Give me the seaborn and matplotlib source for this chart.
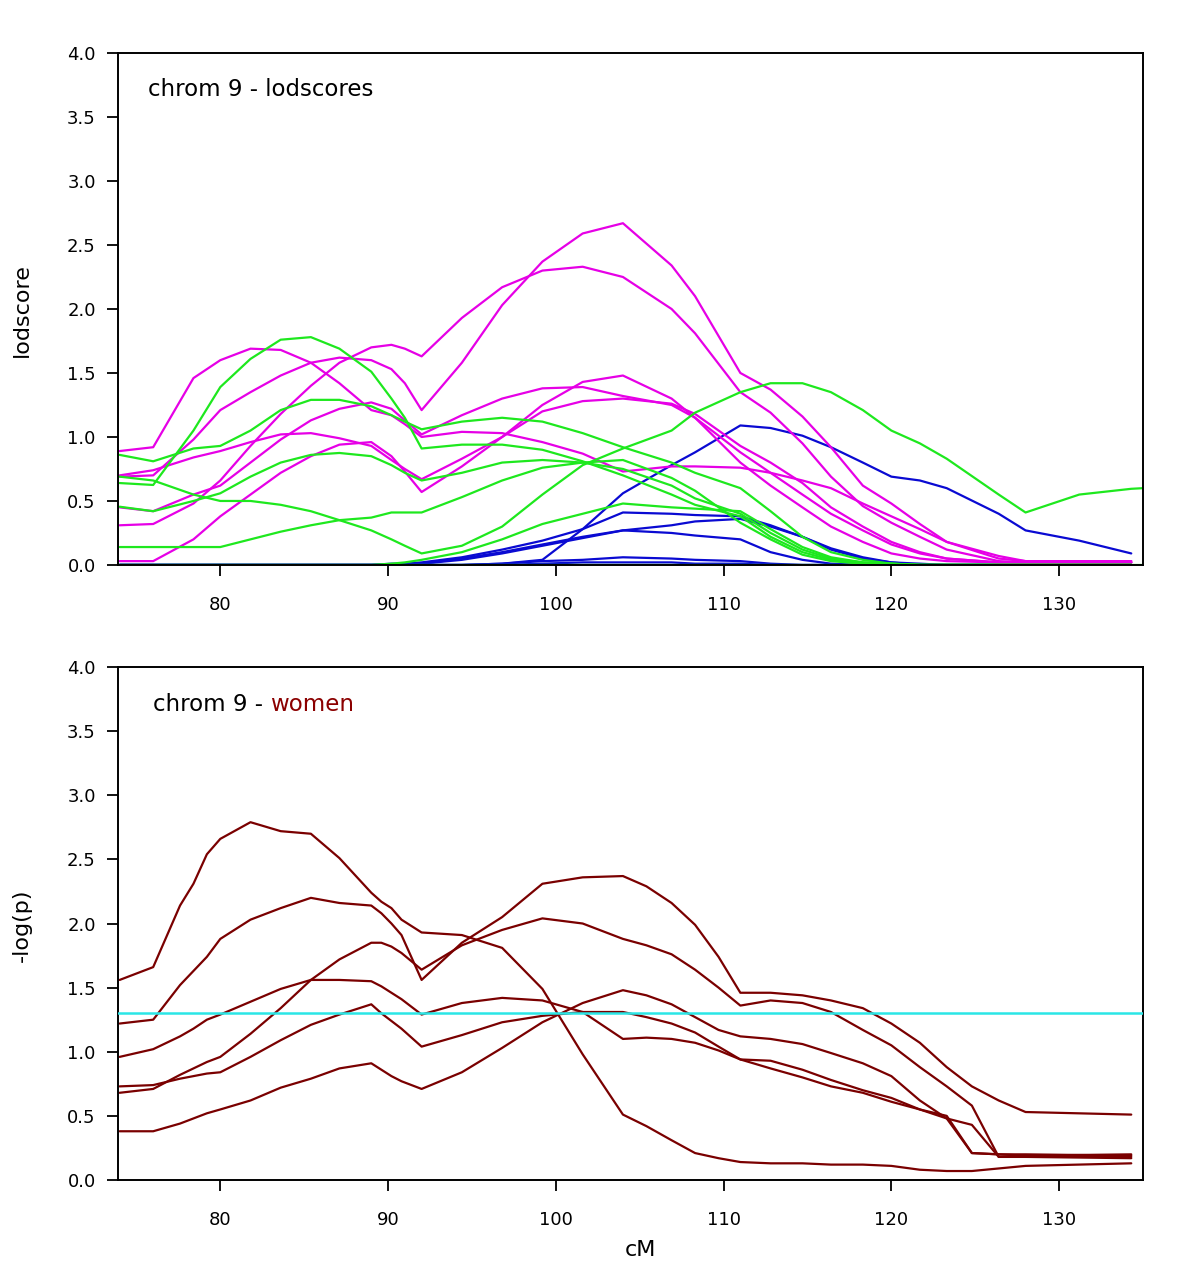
import numpy as np
import matplotlib
matplotlib.use('Agg')
import matplotlib.pyplot as plt
import seaborn as sns

nan = np.nan

# ---- top panel: lodscores, marker positions (cM) ----
cm_top = [74, 76, 78.4, 80, 81.8, 83.6, 85.4, 87.1, 89, 90.2, 91, 92, 94.4, 96.8, 99.2, 101.6,
          104, 106.9, 108.3, 111, 112.8, 114.7, 116.4, 118.3, 120, 121.7, 123.3, 126.4, 128,
          131.2, 134.3, 135]

mag_1 = [0.69, 0.70, 0.98, 1.21, 1.35, 1.48, 1.58, 1.62, 1.60, 1.53, 1.42, 1.21, 1.58, 2.03, 2.37, 2.59,
         2.67, 2.34, 2.10, 1.50, 1.37, 1.16, 0.92, 0.62, 0.48, 0.32, 0.18, 0.05, 0.03, 0.03, 0.03, nan]
mag_2 = [0.31, 0.32, 0.48, 0.66, 0.93, 1.18, 1.40, 1.58, 1.70, 1.72, 1.69, 1.63, 1.93, 2.17, 2.30, 2.33,
         2.25, 2.00, 1.81, 1.35, 1.19, 0.95, 0.69, 0.46, 0.33, 0.22, 0.12, 0.03, 0.02, 0.02, 0.02, nan]
mag_3 = [0.89, 0.92, 1.46, 1.60, 1.69, 1.68, 1.58, 1.42, 1.21, 1.17, 1.10, 1.00, 1.04, 1.03, 0.96, 0.87,
         0.73, 0.77, 0.77, 0.76, 0.72, 0.66, 0.60, 0.48, 0.38, 0.28, 0.18, 0.07, 0.03, 0.03, 0.03, nan]
mag_4 = [0.70, 0.74, 0.84, 0.89, 0.96, 1.02, 1.03, 0.99, 0.93, 0.82, 0.75, 0.67, 0.83, 1.00, 1.20, 1.28,
         1.30, 1.26, 1.18, 0.93, 0.80, 0.64, 0.45, 0.30, 0.18, 0.10, 0.05, 0.02, 0.02, 0.02, 0.02, nan]
mag_5 = [0.03, 0.03, 0.20, 0.38, 0.55, 0.72, 0.85, 0.94, 0.96, 0.85, 0.73, 0.57, 0.77, 1.00, 1.25, 1.43,
         1.48, 1.30, 1.15, 0.80, 0.62, 0.45, 0.30, 0.18, 0.09, 0.05, 0.03, 0.02, 0.02, 0.02, 0.02, nan]
mag_6 = [0.45, 0.42, 0.55, 0.62, 0.80, 0.98, 1.13, 1.22, 1.27, 1.22, 1.13, 1.02, 1.17, 1.30, 1.38, 1.39,
         1.32, 1.25, 1.15, 0.88, 0.72, 0.55, 0.40, 0.27, 0.16, 0.09, 0.05, 0.02, 0.02, 0.02, 0.02, nan]

grn_1 = [0.64, 0.625, 1.05, 1.39, 1.61, 1.76, 1.78, 1.69, 1.51, 1.30, 1.15, 0.91, 0.94, 0.94, 0.90, 0.81,
         0.70, 0.55, 0.47, 0.38, 0.22, 0.10, 0.04, 0.01, 0, 0, 0, 0, 0, 0, 0, nan]
grn_2 = [0.86, 0.81, 0.91, 0.93, 1.05, 1.21, 1.29, 1.29, 1.24, 1.17, 1.12, 1.06, 1.12, 1.15, 1.12, 1.03,
         0.92, 0.80, 0.72, 0.60, 0.42, 0.22, 0.10, 0.04, 0.01, 0, 0, 0, 0, 0, 0, nan]
grn_3 = [0.455, 0.42, 0.50, 0.56, 0.69, 0.80, 0.86, 0.875, 0.85, 0.78, 0.72, 0.66, 0.72, 0.80, 0.82, 0.80,
         0.75, 0.62, 0.52, 0.40, 0.25, 0.12, 0.05, 0.02, 0.01, 0, 0, 0, 0, 0, 0, nan]
grn_4 = [0.69, 0.66, 0.55, 0.50, 0.50, 0.47, 0.42, 0.35, 0.27, 0.20, 0.15, 0.09, 0.15, 0.30, 0.55, 0.78,
         0.91, 1.05, 1.19, 1.35, 1.42, 1.42, 1.35, 1.21, 1.05, 0.95, 0.83, 0.55, 0.41, 0.55, 0.595, 0.60]
grn_5 = [0.14, 0.14, 0.14, 0.14, 0.20, 0.26, 0.31, 0.35, 0.37, 0.41, 0.41, 0.41, 0.53, 0.66, 0.76, 0.80,
         0.82, 0.68, 0.58, 0.33, 0.20, 0.08, 0.03, 0.01, 0, 0, 0, 0, 0, 0, 0, nan]
grn_6 = [0, 0, 0, 0, 0, 0, 0, 0, 0, 0.01, 0.02, 0.04, 0.10, 0.20, 0.32, 0.40,
         0.48, 0.45, 0.44, 0.42, 0.28, 0.14, 0.06, 0.02, 0.01, 0, 0, 0, 0, 0, 0, nan]
grn_7 = [0, 0, 0, 0, 0, 0, 0, 0, 0, 0, 0, 0, 0, 0, 0, 0,
         0, 0, 0, 0, 0, 0, 0, 0, 0, 0, 0, 0, 0, 0, 0, 0]

blu_1 = [0, 0, 0, 0, 0, 0, 0, 0, 0, 0, 0, 0, 0, 0.01, 0.04, 0.28,
         0.56, 0.78, 0.88, 1.09, 1.07, 1.01, 0.92, 0.80, 0.69, 0.66, 0.60, 0.40, 0.27, 0.19, 0.09, nan]
blu_2 = [0, 0, 0, 0, 0, 0, 0, 0, 0, 0.01, 0.01, 0.02, 0.06, 0.12, 0.19, 0.28,
         0.41, 0.40, 0.39, 0.38, 0.31, 0.22, 0.12, 0.05, 0.02, 0.01, 0, 0, 0, 0, 0, nan]
blu_3 = [0, 0, 0, 0, 0, 0, 0, 0, 0, 0, 0, 0.01, 0.05, 0.10, 0.16, 0.22,
         0.27, 0.31, 0.34, 0.36, 0.30, 0.22, 0.13, 0.06, 0.02, 0, 0, 0, 0, 0, 0, nan]
blu_4 = [0, 0, 0, 0, 0, 0, 0, 0, 0, 0, 0, 0.01, 0.04, 0.09, 0.15, 0.21,
         0.27, 0.25, 0.23, 0.20, 0.10, 0.04, 0.01, 0, 0, 0, 0, 0, 0, 0, 0, nan]
blu_5 = [0, 0, 0, 0, 0, 0, 0, 0, 0, 0, 0, 0, 0, 0.01, 0.03, 0.04,
         0.06, 0.05, 0.04, 0.03, 0.01, 0, 0, 0, 0, 0, 0, 0, 0, 0, 0, nan]
blu_6 = [0, 0, 0, 0, 0, 0, 0, 0, 0, 0, 0, 0, 0, 0, 0.01, 0.02,
         0.02, 0.02, 0.01, 0.01, 0, 0, 0, 0, 0, 0, 0, 0, 0, 0, 0, nan]

# ---- bottom panel: -log(p), women ----
cm_bot = [74, 76, 77.6, 78.4, 79.2, 80, 81.8, 83.6, 85.4, 87.1, 89, 89.6, 90.2, 90.8, 92, 94.4, 96.8,
          99.2, 101.6, 104, 105.4, 106.9, 108.3, 109.7, 111, 112.8, 114.7, 116.4, 118.3, 120, 121.7,
          123.3, 124.8, 126.4, 128, 134.3]

wom_1 = [1.56, 1.66, 2.14, 2.31, 2.54, 2.66, 2.79, 2.72, 2.70, 2.51, 2.24, 2.17, 2.12, 2.03, 1.93, 1.91,
         1.81, 1.49, 0.98, 0.51, 0.42, 0.31, 0.21, 0.17, 0.14, 0.13, 0.13, 0.12, 0.12, 0.11, 0.08, 0.07,
         0.07, 0.09, 0.11, 0.13]
wom_2 = [1.22, 1.25, 1.52, 1.63, 1.74, 1.88, 2.03, 2.12, 2.20, 2.16, 2.14, 2.08, 2.00, 1.91, 1.56, 1.85,
         2.05, 2.31, 2.36, 2.37, 2.29, 2.16, 1.99, 1.74, 1.46, 1.46, 1.44, 1.40, 1.34, 1.22, 1.07, 0.88,
         0.73, 0.62, 0.53, 0.51]
wom_3 = [0.68, 0.71, 0.82, 0.87, 0.92, 0.96, 1.14, 1.34, 1.56, 1.72, 1.85, 1.85, 1.82, 1.77, 1.64, 1.83,
         1.95, 2.04, 2.00, 1.88, 1.83, 1.76, 1.64, 1.50, 1.36, 1.40, 1.38, 1.31, 1.17, 1.05, 0.88, 0.73,
         0.58, 0.18, 0.19, 0.18]
wom_4 = [0.96, 1.02, 1.12, 1.18, 1.25, 1.29, 1.39, 1.49, 1.56, 1.56, 1.55, 1.51, 1.46, 1.41, 1.29, 1.38,
         1.42, 1.40, 1.31, 1.10, 1.11, 1.10, 1.07, 1.01, 0.94, 0.93, 0.86, 0.78, 0.70, 0.64, 0.55, 0.48,
         0.43, 0.18, 0.18, 0.17]
wom_5 = [0.73, 0.74, 0.79, 0.81, 0.83, 0.84, 0.96, 1.09, 1.21, 1.29, 1.37, 1.30, 1.24, 1.18, 1.04, 1.13,
         1.23, 1.28, 1.31, 1.31, 1.27, 1.22, 1.15, 1.04, 0.94, 0.87, 0.80, 0.73, 0.68, 0.61, 0.55, 0.50,
         0.21, 0.20, 0.20, 0.19]
wom_6 = [0.38, 0.38, 0.44, 0.48, 0.52, 0.55, 0.62, 0.72, 0.79, 0.87, 0.91, 0.86, 0.81, 0.77, 0.71, 0.84,
         1.03, 1.23, 1.38, 1.48, 1.44, 1.37, 1.27, 1.17, 1.12, 1.10, 1.06, 0.99, 0.91, 0.81, 0.62, 0.48,
         0.21, 0.20, 0.19, 0.20]

threshold = 1.3  # -log10(0.05)

y_ticks = [0.0, 0.5, 1.0, 1.5, 2.0, 2.5, 3.0, 3.5, 4.0]
x_ticks = [80, 90, 100, 110, 120, 130]

BLUE = '#0a0ad2'
MAGENTA = '#e600e6'
GREEN = '#1ee81e'
DARKRED = '#7a0000'
CYAN = '#2ae6e6'


def style_axis(ax):
    ax.set_xlim(73.9, 135)
    ax.set_ylim(0, 4)
    ax.set_xticks(x_ticks)
    ax.set_yticks(y_ticks)
    ax.set_yticklabels(['%.1f' % v for v in y_ticks])
    ax.tick_params(axis='both', direction='out', length=8, width=1.3, labelsize=13,
                   colors='black', top=False, right=False)
    ax.tick_params(axis='x', pad=14)
    ax.tick_params(axis='y', pad=8)
    for sp in ax.spines.values():
        sp.set_visible(True)
        sp.set_linewidth(1.4)
        sp.set_color('black')
    ax.set_xlabel('')
    ax.set_ylabel('')


sns.set_style('ticks')
plt.rcParams['font.family'] = ['DejaVu Sans']
plt.rcParams['text.color'] = 'black'
plt.rcParams['axes.labelcolor'] = 'black'

fig = plt.figure(figsize=(12, 12.71), dpi=100)
ax1 = fig.add_axes([0.0983, 0.5555, 0.8542, 0.4028])
ax2 = fig.add_axes([0.0983, 0.0716, 0.8542, 0.4036])

for vals in [blu_1, blu_2, blu_3, blu_4, blu_5, blu_6]:
    sns.lineplot(x=cm_top, y=vals, color=BLUE, linewidth=1.6, ax=ax1)
for vals in [mag_1, mag_2, mag_3, mag_4, mag_5, mag_6]:
    sns.lineplot(x=cm_top, y=vals, color=MAGENTA, linewidth=1.6, ax=ax1)
for vals in [grn_1, grn_2, grn_3, grn_4, grn_5, grn_6, grn_7]:
    sns.lineplot(x=cm_top, y=vals, color=GREEN, linewidth=1.6, ax=ax1)

for vals in [wom_1, wom_2, wom_3, wom_4, wom_5, wom_6]:
    sns.lineplot(x=cm_bot, y=vals, color=DARKRED, linewidth=1.6, ax=ax2)
ax2.axhline(threshold, color=CYAN, linewidth=1.8, zorder=5)

style_axis(ax1)
style_axis(ax2)

ax1.text(0.029, 0.928, 'chrom 9 - lodscores', transform=ax1.transAxes,
         fontsize=16.5, ha='left', va='center', color='black')
t1 = ax2.text(0.034, 0.926, 'chrom 9 - ', transform=ax2.transAxes,
              fontsize=16.5, ha='left', va='center', color='black')
ax2.annotate('women', xy=(1, 0), xycoords=t1, ha='left', va='bottom',
             fontsize=16.5, color='#8b0000')

fig.text(0.0183, 0.756, 'lodscore', rotation=90, ha='center', va='center', fontsize=16, color='black')
fig.text(0.0183, 0.2722, '-log(p)', rotation=90, ha='center', va='center', fontsize=16, color='black')
fig.text(0.5333, 0.0165, 'cM', ha='center', va='center', fontsize=16, color='black')

fig.savefig('out.png', dpi=100)
